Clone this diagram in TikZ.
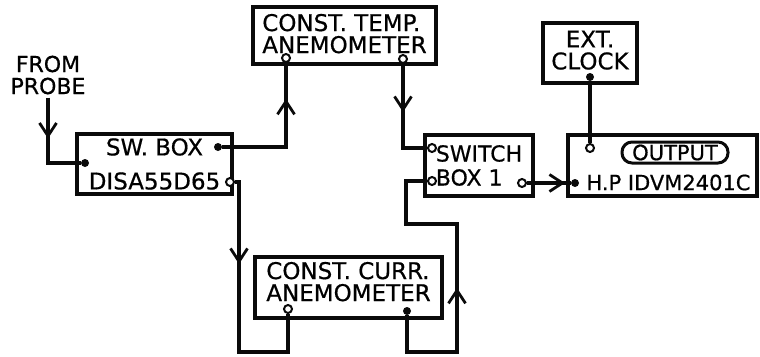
\documentclass[tikz,border=0pt]{standalone}
\usepackage{fontspec}
\setmainfont{DejaVu Sans}[FakeBold=0.6]
\usepackage{tikz}
\usetikzlibrary{arrows.meta,positioning,decorations.markings}
\definecolor{inkBlack}{HTML}{0A0A0A}
\tikzset{
  unit/.style={rectangle, draw=inkBlack, line width=3.4pt, inner sep=0pt, align=left, font=\fontsize{23}{22}\selectfont},
  caption/.style={inner sep=3pt, align=center, font=\fontsize{22}{22}\selectfont},
  port/.style={circle, fill=inkBlack, inner sep=0pt, minimum size=8pt},
  openport/.style={circle, draw=inkBlack, fill=white, line width=2pt, inner sep=0pt, minimum size=8pt},
  wire/.style={line width=3.4pt, draw=inkBlack},
  flow at/.style={postaction={decorate}, decoration={markings, mark=at position #1 with {\arrow{Straight Barb[length=13pt,width=17pt,line width=2.8pt]}}}}
}
\begin{document}
\begin{tikzpicture}[x=1pt,y=-1pt]
\useasboundingbox (0,0) rectangle (760,356);

\node[unit, minimum width=155pt, minimum height=60pt, align=center] (swbox) at (154.5,164) {SW. BOX\\[12pt]DISA55D65};
\node[unit, minimum width=183pt, minimum height=57pt] (ctemp) at (344.5,35.5) {CONST. TEMP.\\ANEMOMETER\\[-18pt]\mbox{}};
\node[unit, minimum width=108pt, minimum height=61pt, font=\fontsize{22}{24}\selectfont] (switch) at (479,165.5) {SWITCH\\BOX 1};
\node[unit, minimum width=189pt, minimum height=61pt] (hp) at (662.5,165.5) {};
\node[unit, minimum width=94pt, minimum height=60pt, align=center] (clock) at (590,53) {EXT.\\CLOCK\\[-16pt]\mbox{}};
\node[unit, minimum width=187pt, minimum height=61pt] (ccurr) at (348.5,287.5) {CONST. CURR.\\ANEMOMETER\\[-10pt]\mbox{}};

\node[inner sep=0pt, font=\fontsize{21}{21}\selectfont] (hpname) at (668.5,182.5) {H.P IDVM2401C};
\node[rectangle, rounded corners=10pt, draw=inkBlack, line width=3pt, minimum width=106pt, minimum height=21pt, inner sep=0pt, font=\fontsize{21}{21}\selectfont] (output) at (675,152.5) {OUTPUT};
\node[caption] (probe) at (48,75) {FROM\\PROBE};

% terminals
\node[port] (swin) at (85,163) {};
\node[port] (swout) at (218,147) {};
\node[openport] (disaout) at (230,182) {};
\node[openport] (ctleft) at (286,58) {};
\node[openport] (ctright) at (403,59) {};
\node[openport] (swin1) at (432,148) {};
\node[openport] (swin2) at (432,181) {};
\node[openport] (swout1) at (522,183) {};
\node[openport] (ccleft) at (288,309) {};
\node[port] (ccright) at (407,311) {};
\node[port] (hpin) at (575,183) {};
\node[port] (clockout) at (590,77) {};
\node[openport] (hptrig) at (590,148) {};

\draw[wire, flow at=41pt] (probe.south) |- (swin);
\draw[wire, flow at=112pt] (swout) -| (ctleft);
\draw[wire, flow at=48pt] (ctright) |- (swin1);
\draw[wire, flow at=86pt] (disaout) -- ++(9,0) -- ++(0,170) -| (ccleft);
\draw[wire, flow at=151pt] (ccright) -- ++(0,41) -- ++(50,0) -- ++(0,-128) -- ++(-51,0) |- (swin2);
\draw[wire, flow at=38pt] (swout1) -- (hpin);
\draw[wire] (clockout) -- (hptrig);

\end{tikzpicture}
\end{document}
